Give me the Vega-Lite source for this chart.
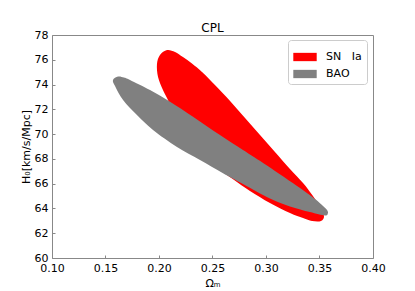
{
  "$schema": "https://vega.github.io/schema/vega-lite/v6.json",
  "width": 321,
  "height": 223,
  "autosize": {"type": "none"},
  "padding": {"left": 52, "top": 35, "right": 42, "bottom": 33},
  "background": "white",
  "title": {"text": "CPL", "fontSize": 12, "font": "DejaVu Sans", "fontWeight": "normal", "color": "black", "offset": -6},
  "datasets": {
    "sn": [
      {"series": "SN Ia", "i": 1, "om": 0.2075, "h0": 76.79},
      {"series": "SN Ia", "i": 2, "om": 0.2150, "h0": 76.63},
      {"series": "SN Ia", "i": 3, "om": 0.2224, "h0": 76.22},
      {"series": "SN Ia", "i": 4, "om": 0.2308, "h0": 75.70},
      {"series": "SN Ia", "i": 5, "om": 0.2402, "h0": 75.01},
      {"series": "SN Ia", "i": 6, "om": 0.2523, "h0": 73.96},
      {"series": "SN Ia", "i": 7, "om": 0.2664, "h0": 72.67},
      {"series": "SN Ia", "i": 8, "om": 0.2804, "h0": 71.30},
      {"series": "SN Ia", "i": 9, "om": 0.2944, "h0": 69.93},
      {"series": "SN Ia", "i": 10, "om": 0.3084, "h0": 68.56},
      {"series": "SN Ia", "i": 11, "om": 0.3224, "h0": 67.19},
      {"series": "SN Ia", "i": 12, "om": 0.3346, "h0": 66.06},
      {"series": "SN Ia", "i": 13, "om": 0.3439, "h0": 65.01},
      {"series": "SN Ia", "i": 14, "om": 0.3505, "h0": 64.12},
      {"series": "SN Ia", "i": 15, "om": 0.3542, "h0": 63.39},
      {"series": "SN Ia", "i": 16, "om": 0.3514, "h0": 62.99},
      {"series": "SN Ia", "i": 17, "om": 0.3430, "h0": 62.99},
      {"series": "SN Ia", "i": 18, "om": 0.3346, "h0": 63.23},
      {"series": "SN Ia", "i": 19, "om": 0.3224, "h0": 63.63},
      {"series": "SN Ia", "i": 20, "om": 0.3037, "h0": 64.44},
      {"series": "SN Ia", "i": 21, "om": 0.2850, "h0": 65.41},
      {"series": "SN Ia", "i": 22, "om": 0.2692, "h0": 66.35},
      {"series": "SN Ia", "i": 23, "om": 0.2523, "h0": 67.43},
      {"series": "SN Ia", "i": 24, "om": 0.2336, "h0": 68.80},
      {"series": "SN Ia", "i": 25, "om": 0.2196, "h0": 70.74},
      {"series": "SN Ia", "i": 26, "om": 0.2084, "h0": 72.75},
      {"series": "SN Ia", "i": 27, "om": 0.2037, "h0": 73.56},
      {"series": "SN Ia", "i": 28, "om": 0.1991, "h0": 74.61},
      {"series": "SN Ia", "i": 29, "om": 0.1981, "h0": 75.66},
      {"series": "SN Ia", "i": 30, "om": 0.2009, "h0": 76.39}
    ],
    "bao": [
      {"series": "BAO", "i": 1, "om": 0.1617, "h0": 74.65},
      {"series": "BAO", "i": 2, "om": 0.1673, "h0": 74.57},
      {"series": "BAO", "i": 3, "om": 0.1729, "h0": 74.37},
      {"series": "BAO", "i": 4, "om": 0.1916, "h0": 73.56},
      {"series": "BAO", "i": 5, "om": 0.2103, "h0": 72.62},
      {"series": "BAO", "i": 6, "om": 0.2318, "h0": 71.41},
      {"series": "BAO", "i": 7, "om": 0.2570, "h0": 69.93},
      {"series": "BAO", "i": 8, "om": 0.2785, "h0": 68.72},
      {"series": "BAO", "i": 9, "om": 0.3009, "h0": 67.47},
      {"series": "BAO", "i": 10, "om": 0.3318, "h0": 65.65},
      {"series": "BAO", "i": 11, "om": 0.3458, "h0": 64.76},
      {"series": "BAO", "i": 12, "om": 0.3533, "h0": 64.20},
      {"series": "BAO", "i": 13, "om": 0.3570, "h0": 63.88},
      {"series": "BAO", "i": 14, "om": 0.3579, "h0": 63.63},
      {"series": "BAO", "i": 15, "om": 0.3551, "h0": 63.43},
      {"series": "BAO", "i": 16, "om": 0.3411, "h0": 63.71},
      {"series": "BAO", "i": 17, "om": 0.3224, "h0": 64.16},
      {"series": "BAO", "i": 18, "om": 0.3037, "h0": 64.80},
      {"series": "BAO", "i": 19, "om": 0.2785, "h0": 65.97},
      {"series": "BAO", "i": 20, "om": 0.2598, "h0": 66.84},
      {"series": "BAO", "i": 21, "om": 0.2383, "h0": 67.91},
      {"series": "BAO", "i": 22, "om": 0.2168, "h0": 68.96},
      {"series": "BAO", "i": 23, "om": 0.1944, "h0": 70.33},
      {"series": "BAO", "i": 24, "om": 0.1794, "h0": 71.54},
      {"series": "BAO", "i": 25, "om": 0.1664, "h0": 72.75},
      {"series": "BAO", "i": 26, "om": 0.1589, "h0": 73.88},
      {"series": "BAO", "i": 27, "om": 0.1570, "h0": 74.37}
    ]
  },
  "encoding": {
    "x": {
      "field": "om", "type": "quantitative",
      "scale": {"domain": [0.1, 0.4], "nice": false, "zero": false},
      "axis": {
        "title": "Ωₘ",
        "values": [0.1, 0.15, 0.2, 0.25, 0.3, 0.35, 0.4],
        "format": ".2f", "grid": false, "domain": false,
        "tickSize": -3, "tickColor": "#888", "labelPadding": 7,
        "labelFlush": false, "labelOverlap": false,
        "labelFont": "DejaVu Sans", "labelFontSize": 11, "labelColor": "black",
        "titleFont": "DejaVu Sans", "titleFontSize": 11, "titleFontWeight": "normal", "titleColor": "black",
        "titlePadding": 4
      }
    },
    "y": {
      "field": "h0", "type": "quantitative",
      "scale": {"domain": [60, 78], "nice": false, "zero": false},
      "axis": {
        "title": "H₀[km/s/Mpc]",
        "values": [60, 62, 64, 66, 68, 70, 72, 74, 76, 78],
        "grid": false, "domain": false,
        "tickSize": -3, "tickColor": "#888", "labelPadding": 7,
        "labelFlush": false, "labelOverlap": false,
        "labelFont": "DejaVu Sans", "labelFontSize": 11, "labelColor": "black",
        "titleFont": "DejaVu Sans", "titleFontSize": 11, "titleFontWeight": "normal", "titleColor": "black",
        "titlePadding": 3
      }
    },
    "order": {"field": "i", "type": "quantitative"},
    "fill": {
      "field": "series", "type": "nominal",
      "scale": {"domain": ["SN Ia", "BAO"], "range": ["#ff0000", "#808080"]},
      "legend": {
        "title": null, "orient": "none", "legendX": 236, "legendY": 5,
        "symbolType": "M-1,-0.355H1V0.355H-1Z", "symbolSize": 548, "symbolStrokeWidth": 0,
        "labelFont": "DejaVu Sans", "labelFontSize": 11, "labelColor": "black", "labelOffset": 9,
        "labelExpr": "replace(datum.label, ' ', '\u00a0\u00a0\u00a0')",
        "padding": 5, "rowPadding": -4.5,
        "fillColor": "white", "strokeColor": "#cccccc", "cornerRadius": 3
      }
    }
  },
  "layer": [
    {"data": {"name": "sn"}, "mark": {"type": "line", "interpolate": "cardinal-closed", "strokeOpacity": 0, "fillOpacity": 1}},
    {"data": {"name": "bao"}, "mark": {"type": "line", "interpolate": "cardinal-closed", "strokeOpacity": 0, "fillOpacity": 1}}
  ],
  "config": {
    "view": {"stroke": "#888", "strokeWidth": 1}
  }
}
